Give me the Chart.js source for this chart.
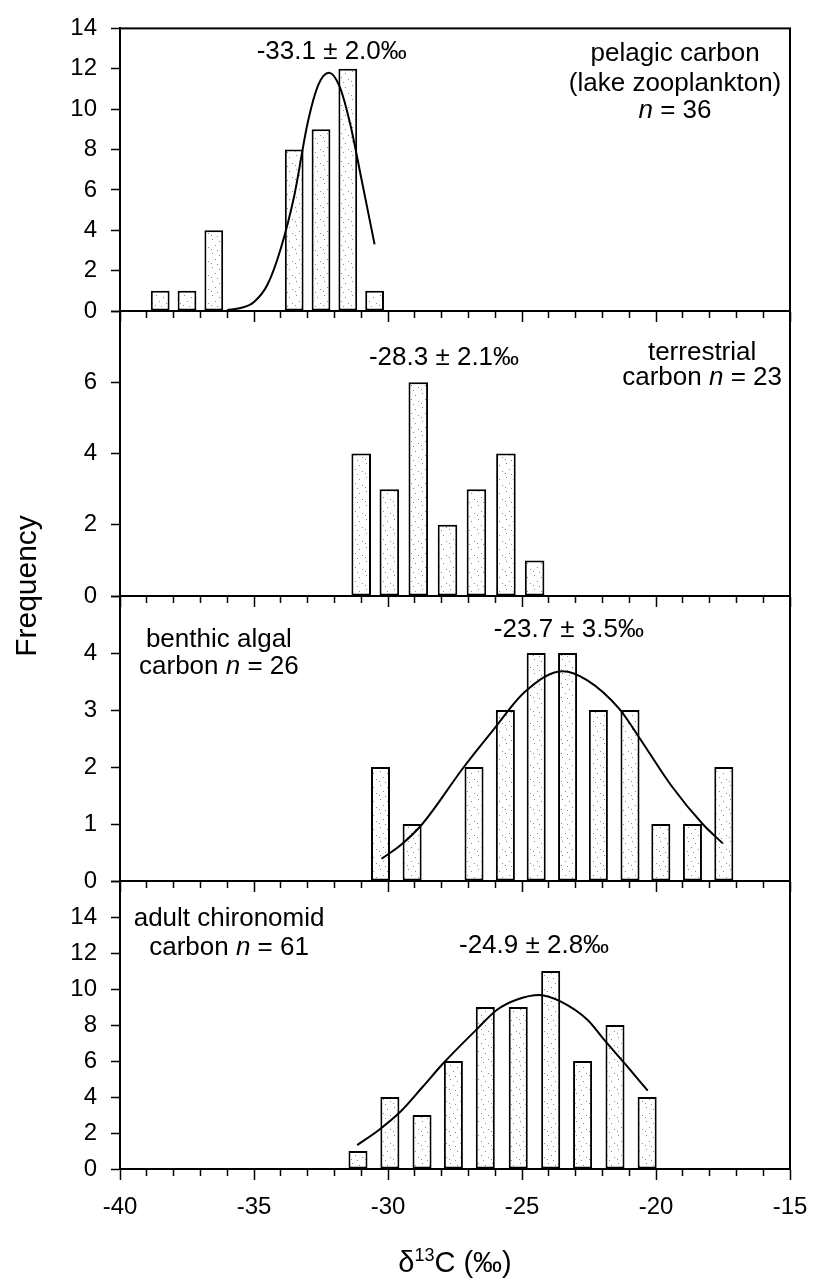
<!DOCTYPE html>
<html lang="en">

<head>
	<meta charset="UTF-8">
	<meta name="viewport" content="width=device-width, initial-scale=1.0">
	<title>d13C frequency</title>
	<style>
		body { margin: 0; background: #fff; }
		#wrap { position: relative; width: 813px; height: 1285px; }
		#wrap canvas { position: absolute; left: 0; top: 0; }
	</style>
</head>

<body>
	<div id="wrap">
		<canvas id="p1" width="813" height="1285"></canvas>
		<canvas id="p2" width="813" height="1285"></canvas>
		<canvas id="p3" width="813" height="1285"></canvas>
		<canvas id="p4" width="813" height="1285"></canvas>
	</div>

	<script src="https://cdn.jsdelivr.net/npm/chart.js"></script>
	<script>
		// x tick labels shown on the bottom panel
		const xTickLabels = [-40, -35, -30, -25, -20, -15];

		// pelagic carbon (lake zooplankton)
		const pelagicBins = [-38.5, -37.5, -36.5, -33.5, -32.5, -31.5, -30.5];
		const pelagicCounts = [1, 1, 4, 8, 9, 12, 1];
		const pelagicFitX = [-36.0, -35.5, -35.0, -34.5, -34.0, -33.5, -33.0, -32.6, -32.2, -31.8, -31.4, -31.0, -30.5];
		const pelagicFitY = [0.05, 0.15, 0.45, 1.3, 3.1, 5.7, 9.3, 11.2, 11.8, 11.1, 9.2, 6.6, 3.3];

		// terrestrial carbon
		const terrBins = [-31.0, -29.95, -28.87, -27.78, -26.7, -25.6, -24.53];
		const terrCounts = [4, 3, 6, 2, 3, 4, 1];

		// benthic algal carbon
		const benthicBins = [-30.28, -29.1, -26.79, -25.62, -24.47, -23.3, -22.15, -20.97, -19.82, -18.64, -17.47];
		const benthicCounts = [2, 1, 2, 3, 4, 4, 3, 3, 1, 1, 2];
		const benthicFitX = [-30.24, -29.5, -28.72, -27.17, -26.04, -24.89, -23.49, -22.56, -21.37, -20.56, -19.44, -18.26, -17.51];
		const benthicFitY = [0.39, 0.64, 1.0, 2.0, 2.67, 3.32, 3.68, 3.52, 3.02, 2.47, 1.68, 1.0, 0.66];

		// adult chironomid carbon
		const chiroBins = [-31.12, -29.93, -28.73, -27.56, -26.37, -25.14, -23.93, -22.74, -21.53, -20.33];
		const chiroCounts = [1, 4, 3, 6, 9, 9, 11, 6, 8, 4];
		const chiroFitX = [-31.15, -30.34, -29.53, -28.72, -27.92, -26.73, -25.93, -25.18, -24.36, -23.55, -22.55, -21.93, -21.12, -20.31];
		const chiroFitY = [1.33, 2.17, 3.19, 4.54, 5.9, 7.7, 8.85, 9.42, 9.67, 9.3, 8.28, 7.17, 5.78, 4.35];

		Chart.defaults.font.family = "'Liberation Sans', Arial, sans-serif";
		Chart.defaults.color = '#000';

		const H = 1285;
		const FONT = "'Liberation Sans', Arial, sans-serif";

		function stipple(canvas) {
			const c = document.createElement('canvas');
			c.width = 14; c.height = 14;
			const g = c.getContext('2d');
			g.fillStyle = '#fff';
			g.fillRect(0, 0, 14, 14);
			g.fillStyle = '#8c8c8c';
			[[2, 1], [9, 3], [5, 7], [12, 9], [1, 11], [7, 12]].forEach(([a, b]) => g.fillRect(a, b, 1, 1));
			return canvas.getContext('2d').createPattern(c, 'repeat');
		}

		const pts = (xs, ys) => xs.map((x, i) => ({ x: x, y: ys[i] }));

		const frame = {
			id: 'frame',
			afterDraw(chart) {
				const { ctx, chartArea: a } = chart;
				ctx.save();
				ctx.strokeStyle = '#000';
				ctx.lineWidth = 2;
				ctx.strokeRect(a.left, a.top, a.right - a.left, a.bottom - a.top);
				ctx.restore();
			}
		};

		const notes = {
			id: 'notes',
			afterDatasetsDraw(chart, args, opts) {
				const { ctx, scales: { x, y } } = chart;
				ctx.save();
				ctx.fillStyle = '#000';
				ctx.textBaseline = 'middle';
				ctx.textAlign = 'left';
				(opts.items || []).forEach(it => {
					const fonts = it.parts.map(p => (p[1] ? 'italic ' : '') + '26px ' + FONT);
					let w = 0;
					it.parts.forEach((p, i) => { ctx.font = fonts[i]; w += ctx.measureText(p[0]).width; });
					let px = x.getPixelForValue(it.x) - w / 2;
					const py = y.getPixelForValue(it.y);
					it.parts.forEach((p, i) => {
						ctx.font = fonts[i];
						ctx.fillText(p[0], px, py);
						px += ctx.measureText(p[0]).width;
					});
				});
				ctx.restore();
			}
		};

		const titles = {
			id: 'titles',
			afterDraw(chart) {
				const ctx = chart.ctx;
				ctx.save();
				ctx.fillStyle = '#000';
				// y title
				ctx.translate(36, 586);
				ctx.rotate(-Math.PI / 2);
				ctx.font = '30px ' + FONT;
				ctx.textAlign = 'center';
				ctx.textBaseline = 'alphabetic';
				ctx.fillText('Frequency', 0, 0);
				ctx.restore();

				// x title with superscript
				ctx.save();
				ctx.fillStyle = '#000';
				ctx.textBaseline = 'alphabetic';
				ctx.textAlign = 'left';
				const big = '29px ' + FONT, small = '18px ' + FONT;
				ctx.font = big; const w1 = ctx.measureText('\u03b4').width, w3 = ctx.measureText('C (\u2030)').width;
				ctx.font = small; const w2 = ctx.measureText('13').width;
				const a = chart.chartArea;
				let px = (a.left + a.right) / 2 - (w1 + w2 + w3) / 2;
				const base = 1272;
				ctx.font = big; ctx.fillText('\u03b4', px, base); px += w1;
				ctx.font = small; ctx.fillText('13', px, base - 11); px += w2;
				ctx.font = big; ctx.fillText('C (\u2030)', px, base);
				ctx.restore();
			}
		};

		function panel(id, o) {
			const canvas = document.getElementById(id);
			const datasets = [{
				type: 'bar',
				data: pts(o.bins, o.counts),
				backgroundColor: stipple(canvas),
				borderColor: '#000',
				borderWidth: 2,
				borderSkipped: false,
				barPercentage: o.barPct,
				categoryPercentage: 1,
				order: 2
			}];
			if (o.fitX) {
				datasets.push({
					type: 'line',
					data: pts(o.fitX, o.fitY),
					borderColor: '#000',
					borderWidth: 2,
					pointRadius: 0,
					fill: false,
					cubicInterpolationMode: 'monotone',
					order: 1
				});
			}
			return new Chart(canvas, {
				type: 'bar',
				data: { datasets: datasets },
				options: {
					responsive: false,
					animation: false,
					events: [],
					layout: { padding: { top: o.top, bottom: H - o.bottom - o.axisH, left: 0, right: 23 } },
					plugins: {
						legend: { display: false },
						tooltip: { enabled: false },
						notes: { items: o.notes }
					},
					scales: {
						x: {
							type: 'linear',
							min: -40,
							max: -15,
							offset: false,
							afterFit: s => { s.height = o.axisH; s.paddingLeft = 0; s.paddingRight = 0; },
							ticks: {
								display: o.labels,
								stepSize: 1,
								autoSkip: false,
								maxRotation: 0,
								padding: 13,
								font: { size: 24 },
								callback: v => xTickLabels.includes(v) ? String(v) : ''
							},
							grid: {
								offset: false,
								drawOnChartArea: false,
								tickLength: 11,
								tickColor: '#000',
								tickWidth: 1.5,
								tickBorderDash: c => (c.tick && c.tick.value % 5 === 0) ? [] : [6, 40]
							},
							border: { color: '#000', width: 2 }
						},
						y: {
							min: 0,
							max: o.yMax,
							afterFit: s => { s.width = 120; },
							ticks: {
								stepSize: o.yStep,
								padding: 14,
								font: { size: 24 },
								callback: v => (v === o.yMax && !o.showTop) ? '' : String(v)
							},
							grid: {
								drawOnChartArea: false,
								tickLength: 9,
								tickColor: '#000',
								tickWidth: 1.5
							},
							border: { color: '#000', width: 2 }
						}
					}
				},
				plugins: o.extra ? [frame, notes, o.extra] : [frame, notes]
			});
		}

		panel('p1', {
			top: 24, bottom: 311, axisH: 16, labels: false, yMax: 14, yStep: 2, showTop: true, barPct: 0.7,
			bins: pelagicBins, counts: pelagicCounts, fitX: pelagicFitX, fitY: pelagicFitY,
			notes: [
				{ x: -32.1, y: 12.83, parts: [['-33.1 \u00b1 2.0\u2030']] },
				{ x: -19.29, y: 12.73, parts: [['pelagic carbon']] },
				{ x: -19.29, y: 11.27, parts: [['(lake zooplankton)']] },
				{ x: -19.29, y: 9.9, parts: [['n', true], [' = 36']] }
			]
		});

		panel('p2', {
			top: 311, bottom: 596, axisH: 16, labels: false, yMax: 8, yStep: 2, showTop: false, barPct: 0.73,
			bins: terrBins, counts: terrCounts,
			notes: [
				{ x: -27.91, y: 6.68, parts: [['-28.3 \u00b1 2.1\u2030']] },
				{ x: -18.28, y: 6.82, parts: [['terrestrial']] },
				{ x: -18.28, y: 6.12, parts: [['carbon '], ['n', true], [' = 23']] }
			]
		});

		panel('p3', {
			top: 596, bottom: 881, axisH: 16, labels: false, yMax: 5, yStep: 1, showTop: false, barPct: 0.71,
			bins: benthicBins, counts: benthicCounts, fitX: benthicFitX, fitY: benthicFitY,
			notes: [
				{ x: -23.25, y: 4.40, parts: [['-23.7 \u00b1 3.5\u2030']] },
				{ x: -36.31, y: 4.23, parts: [['benthic algal']] },
				{ x: -36.31, y: 3.75, parts: [['carbon '], ['n', true], [' = 26']] }
			]
		});

		panel('p4', {
			top: 881, bottom: 1169, axisH: 116, labels: true, yMax: 16, yStep: 2, showTop: false, barPct: 0.71,
			bins: chiroBins, counts: chiroCounts, fitX: chiroFitX, fitY: chiroFitY,
			extra: titles,
			notes: [
				{ x: -35.93, y: 13.89, parts: [['adult chironomid']] },
				{ x: -35.93, y: 12.28, parts: [['carbon '], ['n', true], [' = 61']] },
				{ x: -24.55, y: 12.39, parts: [['-24.9 \u00b1 2.8\u2030']] }
			]
		});
	</script>
</body>

</html>
